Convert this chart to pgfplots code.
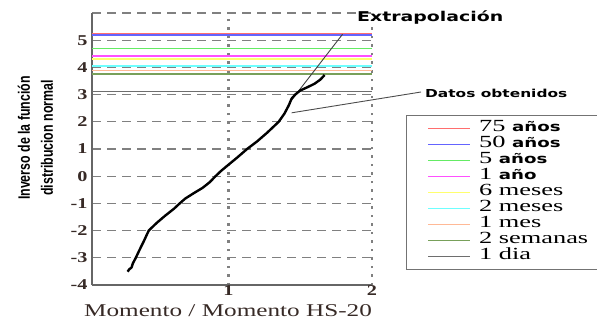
\documentclass[border=0pt]{standalone}
\usepackage{pgfplots}
\pgfplotsset{compat=1.18}
\usepackage{fontspec}
\setmainfont{Liberation Serif}
\newfontfamily\ticksf[FakeStretch=1.35]{Liberation Serif}
\newfontfamily\legsf[FakeStretch=1.55]{Liberation Serif}
\newfontfamily\dvb[FakeStretch=1.4]{DejaVu Sans}
\newfontfamily\ylab[FakeStretch=0.75]{Liberation Sans}
\newfontfamily\xlab[FakeStretch=1.4]{Liberation Serif}
\definecolor{cRed}{RGB}{255,110,110}
\definecolor{cBlue}{RGB}{100,100,255}
\definecolor{cGreen}{RGB}{100,235,100}
\definecolor{cMag}{RGB}{255,80,255}
\definecolor{cYel}{RGB}{255,255,110}
\definecolor{cCyan}{RGB}{110,255,255}
\definecolor{cOra}{RGB}{255,185,150}
\definecolor{cOli}{RGB}{120,160,90}
\definecolor{cGray}{RGB}{110,110,110}
\definecolor{txt}{RGB}{55,42,38}
\begin{document}
\begin{tikzpicture}
\begin{axis}[
  at={(92pt,37pt)}, anchor=south west,
  scale only axis, width=280pt, height=272pt,
  xmin=0.05, xmax=2, ymin=-4, ymax=6,
  xtick={1,2}, xticklabels={1,2},
  ytick={-4,-3,-2,-1,0,1,2,3,4,5,6},
  yticklabels={-4,-3,-2,-1,0,1,2,3,4,5,{}},
  axis x line*=bottom, axis y line*=left,
  axis line style={-, line width=1.3pt, black!60},
  major tick length=0pt,
  xmajorgrids, ymajorgrids,
  major x grid style={black!50, line width=2.2pt, dash pattern=on 2.5pt off 6pt},
  major y grid style={black!50, line width=1.2pt, dash pattern=on 9pt off 6pt},
  tick label style={font=\ticksf\fontsize{15}{15}\selectfont\bfseries, text=txt},
  yticklabel style={xshift=-1pt},
  xticklabel style={yshift=3pt},
  legend style={at={(1.1214,0.625)}, anchor=north west, draw=black!55,
    line width=1.2pt, inner xsep=21pt, inner ysep=5pt, row sep=0pt,
    column sep=8pt, font=\legsf\fontsize{17}{16}\selectfont,
    nodes={inner sep=0pt, text height=11pt, text depth=5pt, anchor=west}},
  legend cell align=left,
  legend image code/.code={\draw[#1] (0pt,0pt) -- (42pt,0pt);},
]
\addplot[cRed, line width=1.6pt] coordinates {(0.05,5.25) (2,5.25)};
\addplot[cBlue, line width=1.6pt] coordinates {(0.05,5.19) (2,5.19)};
\addplot[cGreen, line width=1.6pt] coordinates {(0.05,4.70) (2,4.70)};
\addplot[cMag, line width=1.6pt] coordinates {(0.05,4.42) (2,4.42)};
\addplot[cYel, line width=1.6pt] coordinates {(0.05,4.31) (2,4.31)};
\addplot[cCyan, line width=1.6pt] coordinates {(0.05,4.05) (2,4.05)};
\addplot[cOra, line width=1.6pt] coordinates {(0.05,3.89) (2,3.89)};
\addplot[cOli, line width=1.6pt] coordinates {(0.05,3.75) (2,3.75)};
\addplot[cGray, line width=1.6pt] coordinates {(0.05,3.12) (2,3.12)};
\legend{75 {\dvb\fontsize{13}{16}\selectfont\bfseries años},
        50 {\dvb\fontsize{13}{16}\selectfont\bfseries años},
        5 {\dvb\fontsize{13}{16}\selectfont\bfseries años},
        1 {\dvb\fontsize{13}{16}\selectfont\bfseries año},
        6 meses, 2 meses, 1 mes, 2 semanas, 1 dia}
% extrapolation
\addplot[forget plot, black!75, line width=0.9pt] coordinates {(1.44,2.8) (1.795,5.22)};
% obtained data
\addplot[forget plot, black, line width=2.4pt, line join=round] coordinates {
(0.298,-3.51) (0.31,-3.42) (0.325,-3.36) (0.335,-3.2) (0.355,-3.0) (0.38,-2.72)
(0.41,-2.4) (0.445,-2.0) (0.50,-1.72) (0.56,-1.45) (0.62,-1.2) (0.665,-0.98)
(0.70,-0.82) (0.76,-0.62) (0.82,-0.43) (0.87,-0.22) (0.91,0.0) (0.95,0.2)
(1.0,0.42) (1.06,0.68) (1.13,1.0) (1.20,1.28) (1.27,1.6) (1.35,2.0) (1.39,2.3)
(1.42,2.6) (1.44,2.85) (1.465,3.0) (1.50,3.15) (1.55,3.27) (1.60,3.4) (1.64,3.55) (1.67,3.72)};
\coordinate (dp) at (axis cs:1.44,2.33);
\end{axis}
\draw[black!70, line width=0.9pt] (dp) -- (421pt,230pt);
\node[anchor=west, inner sep=0pt, text=black] at (425pt,229pt) {\dvb\fontsize{11}{11}\selectfont\bfseries Datos obtenidos};
\node[anchor=west, inner sep=0pt, text=black] at (357pt,304pt) {\dvb\fontsize{13.5}{13.5}\selectfont\bfseries Extrapolación};
\node[rotate=90, align=center, inner sep=0pt, text=black, font=\ylab\fontsize{16.5}{23}\selectfont\bfseries] at (35.5pt,184pt) {Inverso de la función\\ distribucion normal};
\node[inner sep=0pt, text=txt] at (228pt,11pt) {\xlab\fontsize{18}{18}\selectfont Momento / Momento HS-20};
\pgfresetboundingbox
\path[use as bounding box] (0pt,0pt) rectangle (597pt,322pt);
\end{tikzpicture}
\end{document}
